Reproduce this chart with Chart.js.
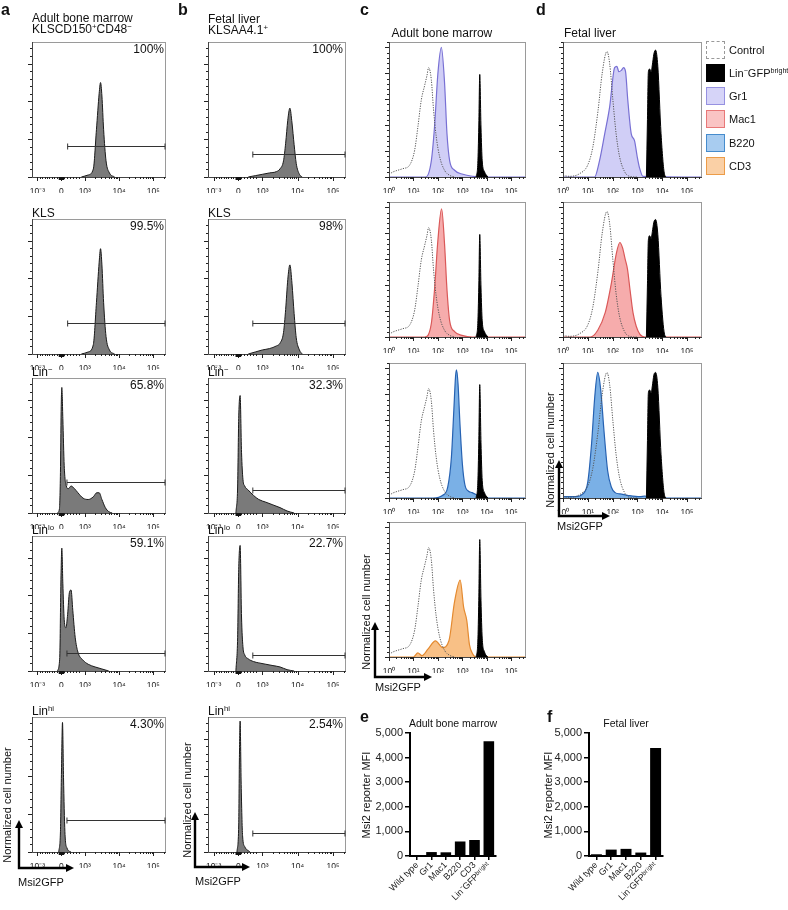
<!DOCTYPE html>
<html><head><meta charset="utf-8">
<script src="https://cdn.jsdelivr.net/npm/chart.js@4/dist/chart.umd.min.js"></script>
<style>
body{margin:0;background:#fff;}
#fig{position:relative;width:788px;height:910px;overflow:hidden;font-family:"Liberation Sans",Arial,Helvetica,sans-serif;color:#111;background:#fff;}
.t{position:absolute;white-space:nowrap;font-size:12px;line-height:1;}
.t sup{font-size:65%;line-height:0;position:relative;top:-0.5em;vertical-align:baseline;}
canvas{position:absolute;}
.lg{position:absolute;width:17px;height:16px;box-sizing:border-box;}
</style></head><body><div id="fig"></div>
<script>
// ================= DATA =================
// a/b x axis: biexponential display units (-10^3 -> 1.62, 0 -> 2.32, 10^3 -> 3, 10^4 -> 4, 10^5 -> 5)
const abTickValues = [1.62, 2.32, 3, 4, 5];
const abTickLabels = ['10⁻³', '0', '10³', '10⁴', '10⁵'];
// c/d x axis: log10 of Msi2GFP intensity
const cdTickValues = [0, 1, 2, 3, 4, 5];
const cdTickLabels = ['10⁰', '10¹', '10²', '10³', '10⁴', '10⁵'];

const aPercents = ['100%', '99.5%', '65.8%', '59.1%', '4.30%'];
const bPercents = ['100%', '98%', '32.3%', '22.7%', '2.54%'];
const rowTitles = ['KLS', 'Lin<sup>−</sup>', 'Lin<sup>lo</sup>', 'Lin<sup>hi</sup>'];

// y values: % of panel height
const a1X = [2.9, 3.1, 3.25, 3.34, 3.42, 3.46, 3.5, 3.55, 3.62, 3.72, 3.87];
const a1Y = [0, 1.5, 6, 35, 62, 70, 60, 35, 12, 3, 0];
const a2X = [2.9, 3.1, 3.25, 3.34, 3.42, 3.46, 3.5, 3.55, 3.62, 3.72, 3.87];
const a2Y = [0, 1.5, 7, 38, 68, 78, 66, 38, 13, 3, 0];
const a3X = [2.2, 2.26, 2.29, 2.31, 2.33, 2.36, 2.4, 2.46, 2.52, 2.6, 2.7, 2.8, 2.95, 3.1, 3.25, 3.35, 3.42, 3.5, 3.6, 3.7, 3.8];
const a3Y = [0, 3, 30, 75, 93, 70, 35, 20, 18, 20, 18, 15, 11, 10, 12, 15, 15, 10, 4, 1, 0];
const a4X = [2.2, 2.27, 2.3, 2.33, 2.36, 2.4, 2.45, 2.5, 2.55, 2.6, 2.65, 2.72, 2.8, 2.95, 3.1, 3.3, 3.5, 3.7];
const a4Y = [0, 10, 60, 91, 65, 38, 32, 42, 58, 60, 45, 25, 14, 8, 5, 3, 1.5, 0];
const a5X = [2.24, 2.29, 2.32, 2.35, 2.38, 2.42, 2.48, 2.6];
const a5Y = [0, 15, 60, 96, 55, 15, 3, 0];

const b1X = [2.6, 2.8, 3.0, 3.2, 3.4, 3.5, 3.6, 3.66, 3.72, 3.78, 3.84, 3.9, 3.96, 4.05, 4.13];
const b1Y = [0, 1, 2, 3, 4, 6, 12, 25, 42, 51, 40, 24, 10, 2, 0];
const b2X = [2.6, 2.8, 3.0, 3.2, 3.4, 3.5, 3.6, 3.66, 3.72, 3.78, 3.84, 3.9, 3.96, 4.05, 4.13];
const b2Y = [0, 1.5, 3, 4, 6, 8, 16, 33, 55, 66, 52, 30, 12, 3, 0];
const b3X = [2.25, 2.3, 2.33, 2.37, 2.41, 2.45, 2.5, 2.6, 2.75, 2.9, 3.1, 3.3, 3.5, 3.7, 3.9];
const b3Y = [0, 20, 70, 87, 45, 25, 20, 17, 13, 10, 8, 6, 4, 1.5, 0];
const b4X = [2.25, 2.3, 2.33, 2.37, 2.41, 2.45, 2.5, 2.6, 2.75, 2.9, 3.1, 3.3, 3.5, 3.7, 3.9];
const b4Y = [0, 25, 75, 93, 40, 18, 12, 9, 7, 6, 5, 4, 3, 1, 0];
const b5X = [2.28, 2.33, 2.35, 2.37, 2.4, 2.44, 2.5, 2.65];
const b5Y = [0, 20, 70, 97, 50, 12, 4, 0];

const aGateY = [23, 23, 23, 13, 24];
const aGateStart = [2.5, 2.5, 2.48, 2.48, 2.48];
const bGateY = [17, 23, 17, 12, 14];
const bGateStart = [2.73, 2.73, 2.73, 2.73, 2.73];

// column c (adult bone marrow)
const cCtrlX = [0, 0.16, 0.57, 0.84, 1.05, 1.18, 1.32, 1.46, 1.55, 1.62, 1.73, 1.82, 1.93, 2.07, 2.27, 2.48, 2.7];
const cCtrlY = [2, 3.7, 6.2, 8.7, 20, 37, 57, 68, 75, 81, 72, 50, 30, 15, 5, 1.2, 0];
const cBrightX = [3.56, 3.63, 3.67, 3.71, 3.76, 3.81, 3.9, 4.04];
const c1BrightY = [0, 10, 37, 76, 37, 12, 4, 0];
const c2BrightY = [0, 10, 37, 76, 37, 12, 4, 0];
const c3BrightY = [0, 11, 41, 84, 41, 13, 4, 0];
const c4BrightY = [0, 11, 42, 87, 42, 14, 4, 0];
const cGr1X = [0, 1.5, 1.73, 1.86, 2.0, 2.14, 2.27, 2.37, 2.48, 2.68, 3.02, 3.43, 3.8, 5.6];
const cGr1Y = [0, 0, 12, 37, 77, 96, 70, 32, 12, 5, 2, 0.5, 0, 0];
const cMac1X = [0, 1.46, 1.73, 1.86, 2.0, 2.15, 2.27, 2.37, 2.48, 2.68, 3.02, 3.4, 5.6];
const cMac1Y = [0, 0, 10, 35, 72, 95, 69, 35, 12, 4, 1, 0, 0];
const cB220X = [0, 1.8, 2.2, 2.4, 2.55, 2.65, 2.72, 2.76, 2.82, 2.9, 3.0, 3.1, 3.25, 3.4, 3.6, 3.8, 5.6];
const cB220Y = [0, 0, 2, 8, 30, 65, 90, 95, 85, 55, 25, 10, 5, 4, 2, 0, 0];
const cCD3X = [0, 1.0, 1.18, 1.35, 1.6, 1.9, 2.19, 2.45, 2.68, 2.91, 3.05, 3.18, 3.29, 3.43, 3.55, 5.6];
const cCD3Y = [0, 0, 3, 1, 6, 12, 7, 12, 41, 57, 37, 27, 9, 2, 0, 0];

// column d (fetal liver)
const dCtrlX = [0, 0.27, 0.67, 1.0, 1.2, 1.41, 1.58, 1.77, 1.88, 2.01, 2.14, 2.28, 2.48, 2.68, 3.0];
const dCtrlY = [1, 0.5, 2.5, 9, 22, 49, 77, 93, 84, 57, 32, 15, 4, 0.5, 0];
const dBrightX = [3.36, 3.4, 3.44, 3.49, 3.55, 3.6, 3.66, 3.73, 3.82, 3.95, 4.09, 4.16];
const d1BrightY = [0, 40, 78, 80, 78, 83, 91, 94, 82, 32, 2, 0];
const d2BrightY = [0, 37, 72, 75, 73, 78, 85, 87, 76, 30, 2, 0];
const d3BrightY = [0, 40, 78, 80, 78, 83, 91, 93, 82, 32, 2, 0];
const dGr1X = [0, 1.27, 1.47, 1.68, 1.88, 2.08, 2.17, 2.25, 2.35, 2.44, 2.52, 2.61, 2.75, 2.88, 2.99, 3.08, 3.22, 5.56];
const dGr1Y = [0, 0, 12, 32, 52, 81, 82, 78, 79, 81, 78, 57, 32, 27, 15, 7, 0.5, 0];
const dMac1X = [0, 1.1, 1.4, 1.7, 1.95, 2.15, 2.29, 2.4, 2.5, 2.6, 2.7, 2.82, 2.95, 3.1, 3.3, 5.56];
const dMac1Y = [0, 0, 5, 18, 40, 62, 70, 66, 58, 50, 35, 18, 8, 2, 0, 0];
const dB220X = [0, 0.5, 0.8, 1.0, 1.15, 1.28, 1.4, 1.52, 1.65, 1.8, 1.95, 2.1, 2.3, 2.6, 3.1, 3.3, 3.5, 5.56];
const dB220Y = [1, 1, 3, 12, 40, 75, 93, 80, 50, 20, 8, 4, 3, 2, 1, 1.5, 0, 0];

const legendLabels = ['Control', 'Lin<sup>−</sup>GFP<sup>bright</sup>', 'Gr1', 'Mac1', 'B220', 'CD3'];

// bar charts
const eCategories = ['Wild type', 'Gr1', 'Mac1', 'B220', 'CD3', 'Lin⁻GFPᵇʳⁱᵍʰᵗ'];
const eValues = [40, 160, 150, 590, 650, 4660];
const fCategories = ['Wild type', 'Gr1', 'Mac1', 'B220', 'Lin⁻GFPᵇʳⁱᵍʰᵗ'];
const fValues = [70, 260, 290, 140, 4390];
const mfiTicks = [0, 1000, 2000, 3000, 4000, 5000];

// ================= STYLE / LAYOUT =================
const FONT = '"Liberation Sans", Arial, Helvetica, sans-serif';
const COL = {
  gray: '#7a7a7a', grayLine: '#1a1a1a',
  gr1: 'rgb(208,206,246)', gr1L: 'rgb(120,112,212)',
  mac1: 'rgb(246,172,172)', mac1L: 'rgb(218,88,88)',
  b220: 'rgb(122,176,230)', b220L: 'rgb(38,98,178)',
  cd3: 'rgb(248,192,134)', cd3L: 'rgb(228,138,48)'
};
const fig = document.getElementById('fig');
const pts = (xs, ys) => xs.map((x, i) => ({ x, y: ys[i] }));

function addText(html, x, y, o = {}) {
  const d = document.createElement('div');
  d.className = 't'; d.innerHTML = html;
  d.style.left = x + 'px'; d.style.top = y + 'px';
  if (o.size) d.style.fontSize = o.size + 'px';
  if (o.bold) d.style.fontWeight = 'bold';
  if (o.align === 'right') d.style.transform = 'translateX(-100%)';
  if (o.align === 'center') d.style.transform = 'translateX(-50%)';
  if (o.rot) d.style.transform = 'translate(-50%,-50%) rotate(-90deg)';
  fig.appendChild(d); return d;
}
function makeCanvas(left, top, w, h) {
  const c = document.createElement('canvas');
  c.width = w; c.height = h;
  c.style.left = left + 'px'; c.style.top = top + 'px';
  c.style.width = w + 'px'; c.style.height = h + 'px';
  fig.appendChild(c); return c;
}

const decoPlugin = {
  id: 'deco',
  afterDatasetsDraw(chart, args, o) {
    const { ctx, chartArea: a, scales: { x, y } } = chart;
    ctx.save();
    ctx.lineWidth = 1;
    ctx.strokeStyle = '#9a9a9a';
    ctx.strokeRect(a.left + 0.5, a.top + 0.5, a.right - a.left - 1, a.bottom - a.top);
    ctx.strokeStyle = '#444';
    ctx.beginPath();
    ctx.moveTo(a.left + 0.5, a.top); ctx.lineTo(a.left + 0.5, a.bottom + 0.5); ctx.lineTo(a.right, a.bottom + 0.5);
    ctx.stroke();
    // x ticks
    ctx.strokeStyle = '#222';
    const tick = (v, len) => {
      const px = Math.round(x.getPixelForValue(v)) + 0.5;
      if (px < a.left || px > a.right) return;
      ctx.moveTo(px, a.bottom); ctx.lineTo(px, a.bottom + len);
    };
    ctx.beginPath();
    const major = o.kind === 'ab' ? abTickValues : cdTickValues;
    major.forEach(v => tick(v, 4));
    if (o.kind === 'ab') {
      [3, 4, 5].forEach(d => { for (let m = 2; m < 10; m++) tick(d + Math.log10(m), 2); });
      for (let k = 1; k < 10; k++) tick(1.62 + 0.7 * k / 10, 2);
      for (let k = 1; k < 7; k++) tick(2.32 + 0.68 * k / 8, 2);
    } else {
      [0, 1, 2, 3, 4, 5].forEach(d => { for (let m = 2; m < 10; m++) tick(d + Math.log10(m), 2); });
    }
    ctx.stroke();
    if (o.kind === 'ab') {
      ctx.fillStyle = '#111';
      const p0 = x.getPixelForValue(2.24), p1 = x.getPixelForValue(2.4);
      ctx.fillRect(p0, a.bottom, p1 - p0, 3);
    }
    // y ticks
    ctx.beginPath();
    const step = o.yStep;
    for (let v = 0, i = 0; v <= 100.01; v += step / 5, i++) {
      const py = Math.round(y.getPixelForValue(v)) + 0.5;
      const len = (i % 5 === 0) ? 4 : 2;
      ctx.moveTo(a.left, py); ctx.lineTo(a.left - len, py);
    }
    ctx.stroke();
    // gate
    if (o.gate) {
      const gy = Math.round(y.getPixelForValue(o.gate.y)) + 0.5;
      const gx0 = x.getPixelForValue(o.gate.x0), gx1 = Math.min(x.getPixelForValue(o.gate.x1), a.right - 1);
      ctx.strokeStyle = '#333';
      ctx.beginPath();
      ctx.moveTo(gx0, gy); ctx.lineTo(gx1, gy);
      ctx.moveTo(gx0, gy - 3); ctx.lineTo(gx0, gy + 3);
      ctx.moveTo(gx1, gy - 3); ctx.lineTo(gx1, gy + 3);
      ctx.stroke();
    }
    ctx.restore();
  }
};

function histChart(box, kind, datasets, gate) {
  const padL = 14, padR = 14, padT = 4, padB = 16;
  const cv = makeCanvas(box.x - padL, box.y - padT, box.w + padL + padR, box.h + padT + padB);
  const isAB = kind === 'ab';
  const tv = isAB ? abTickValues : cdTickValues;
  const tl = isAB ? abTickLabels : cdTickLabels;
  new Chart(cv, {
    type: 'scatter',
    data: { datasets },
    options: {
      animation: false, responsive: false, devicePixelRatio: 1,
      layout: { padding: { left: padL, right: padR, top: padT, bottom: 0 } },
      plugins: { legend: { display: false }, tooltip: { enabled: false },
        deco: { kind, gate, yStep: isAB ? 28 : 19.2 } },
      scales: {
        x: {
          type: 'linear', min: isAB ? 1.46 : 0, max: isAB ? 5.37 : 5.6,
          afterBuildTicks: s => { s.ticks = tv.map(v => ({ value: v })); },
          afterFit: s => { s.height = padB; },
          ticks: { callback: v => tl[tv.indexOf(v)], font: { size: 8.5, family: FONT }, color: '#222',
                   padding: 2, maxRotation: 0, autoSkip: false },
          grid: { display: false }, border: { display: false }
        },
        y: { min: 0, max: 100, display: false }
      },
      elements: { point: { radius: 0 }, line: { cubicInterpolationMode: 'monotone' } }
    },
    plugins: [decoPlugin]
  });
}
const grayDs = (xs, ys) => ({ data: pts(xs, ys), showLine: true, fill: 'origin',
  backgroundColor: COL.gray, borderColor: COL.grayLine, borderWidth: 1 });
const ctrlDs = (xs, ys) => ({ data: pts(xs, ys), showLine: true, fill: false,
  borderColor: '#555', borderWidth: 1, borderDash: [1.2, 1.3] });
const brightDs = (xs, ys) => ({ data: pts(xs, ys), showLine: true, fill: 'origin',
  backgroundColor: '#000', borderColor: '#000', borderWidth: 1 });
const colDs = (xs, ys, f, l) => ({ data: pts(xs, ys), showLine: true, fill: 'origin',
  backgroundColor: f, borderColor: l, borderWidth: 1.2 });

// ---- columns a, b ----
const rowTopsAB = [42, 219, 378, 536, 717];
const aBoxX = 32, aBoxW = 134, bBoxX = 208, bBoxW = 138, rowH = 135;
const aSeries = [[a1X, a1Y], [a2X, a2Y], [a3X, a3Y], [a4X, a4Y], [a5X, a5Y]];
const bSeries = [[b1X, b1Y], [b2X, b2Y], [b3X, b3Y], [b4X, b4Y], [b5X, b5Y]];
rowTopsAB.forEach((top, i) => {
  histChart({ x: aBoxX, y: top, w: aBoxW, h: rowH }, 'ab', [grayDs(...aSeries[i])],
    { y: aGateY[i], x0: aGateStart[i], x1: 5.37 });
  histChart({ x: bBoxX, y: top, w: bBoxW, h: rowH }, 'ab', [grayDs(...bSeries[i])],
    { y: bGateY[i], x0: bGateStart[i], x1: 5.37 });
  addText(aPercents[i], aBoxX + aBoxW - 2, top + 1, { align: 'right' });
  addText(bPercents[i], bBoxX + bBoxW - 3, top + 1, { align: 'right' });
  if (i > 0) {
    addText(rowTitles[i - 1], aBoxX, top - 12.5);
    addText(rowTitles[i - 1], bBoxX, top - 12.5);
  }
});
addText('Adult bone marrow', 32, 11.5);
addText('KLSCD150<sup>+</sup>CD48<sup>−</sup>', 32, 23);
addText('Fetal liver', 208, 13);
addText('KLSAA4.1<sup>+</sup>', 208, 24);

// ---- column c ----
const cTops = [42, 202, 363, 522];
const cBoxX = 389, cBoxW = 137;
const cColored = [[cGr1X, cGr1Y, COL.gr1, COL.gr1L], [cMac1X, cMac1Y, COL.mac1, COL.mac1L],
                  [cB220X, cB220Y, COL.b220, COL.b220L], [cCD3X, cCD3Y, COL.cd3, COL.cd3L]];
const cBright = [c1BrightY, c2BrightY, c3BrightY, c4BrightY];
cTops.forEach((top, i) => {
  histChart({ x: cBoxX, y: top, w: cBoxW, h: rowH }, 'cd',
    [ctrlDs(cCtrlX, cCtrlY), brightDs(cBrightX, cBright[i]), colDs(...cColored[i])], null);
});
addText('Adult bone marrow', 391.5, 27);

// ---- column d ----
const dTops = [42, 202, 363];
const dBoxX = 563, dBoxW = 139;
const dColored = [[dGr1X, dGr1Y, COL.gr1, COL.gr1L], [dMac1X, dMac1Y, COL.mac1, COL.mac1L],
                  [dB220X, dB220Y, COL.b220, COL.b220L]];
const dBright = [d1BrightY, d2BrightY, d3BrightY];
dTops.forEach((top, i) => {
  histChart({ x: dBoxX, y: top, w: dBoxW, h: rowH }, 'cd',
    [ctrlDs(dCtrlX, dCtrlY), brightDs(dBrightX, dBright[i]), colDs(...dColored[i])], null);
});
addText('Fetal liver', 564, 27);

// legend
const legendStyles = [
  'border:1.3px dashed #999;background:#fff;',
  'background:#000;border:1px solid #000;',
  'background:rgb(214,212,248);border:1.3px solid rgb(150,145,225);',
  'background:rgb(250,196,196);border:1.3px solid rgb(232,120,120);',
  'background:rgb(168,204,240);border:1.3px solid rgb(70,140,205);',
  'background:rgb(250,208,166);border:1.3px solid rgb(236,156,72);'
];
const legendTops = [41, 64, 87, 110, 134, 157];
legendLabels.forEach((lab, i) => {
  const b = document.createElement('div');
  b.className = 'lg'; b.style.cssText += legendStyles[i];
  b.style.left = '706px'; b.style.top = (legendTops[i]) + 'px';
  b.style.width = '19px'; b.style.height = '18px';
  fig.appendChild(b);
  addText(lab, 729, legendTops[i] + 4, { size: 11 });
});

// ---- bar charts ----
function barChart(left, top, w, h, areaL, areaT, areaB, areaR, cats, vals) {
  const cv = makeCanvas(left, top, w, h);
  new Chart(cv, {
    type: 'bar',
    data: { labels: cats, datasets: [{ data: vals, backgroundColor: '#000', barPercentage: 0.74, categoryPercentage: 1 }] },
    options: {
      animation: false, responsive: false, devicePixelRatio: 1,
      layout: { padding: { left: 0, right: left + w - areaR, top: areaT - top, bottom: 0 } },
      plugins: { legend: { display: false }, tooltip: { enabled: false } },
      scales: {
        x: {
          grid: { offset: false, drawOnChartArea: false, tickLength: 4, color: '#000', lineWidth: 1.5 },
          border: { color: '#000', width: 2 },
          ticks: { minRotation: 45, maxRotation: 45, autoSkip: false, font: { size: 9, family: FONT }, color: '#222', padding: 0 },
          afterFit: s => { s.height = top + h - areaB; }
        },
        y: {
          min: 0, max: 5000,
          afterBuildTicks: s => { s.ticks = mfiTicks.map(v => ({ value: v })); },
          ticks: { font: { size: 11, family: FONT }, color: '#222', padding: 2,
                   callback: v => v.toLocaleString('en-US') },
          grid: { drawOnChartArea: false, tickLength: 5, color: '#000', lineWidth: 1.5 },
          border: { color: '#000', width: 2 },
          afterFit: s => { s.width = areaL - left; }
        }
      }
    }
  });
}
barChart(360, 700, 140, 210, 410, 733, 856, 496, eCategories, eValues);
barChart(540, 700, 127, 210, 589, 733, 856, 663, fCategories, fValues);
addText('Adult bone marrow', 453, 718, { size: 10.5, align: 'center' });
addText('Fetal liver', 626, 718, { size: 10.5, align: 'center' });
addText('Msi2 reporter MFI', 366, 795, { size: 11, rot: true });
addText('Msi2 reporter MFI', 548, 795, { size: 11, rot: true });

// ---- panel letters ----
addText('a', 1, 2, { size: 16, bold: true });
addText('b', 178, 2, { size: 16, bold: true });
addText('c', 360, 2, { size: 16, bold: true });
addText('d', 536, 2, { size: 16, bold: true });
addText('e', 360, 709, { size: 16, bold: true });
addText('f', 547, 709, { size: 16, bold: true });

// ---- axis arrows & titles ----
const svgNS = 'http://www.w3.org/2000/svg';
const svg = document.createElementNS(svgNS, 'svg');
svg.setAttribute('width', 788); svg.setAttribute('height', 910);
svg.style.position = 'absolute'; svg.style.left = '0'; svg.style.top = '0';
fig.appendChild(svg);
function arrows(x, y, upTo, rightTo) {
  const mk = (tag, attrs) => { const e = document.createElementNS(svgNS, tag);
    for (const k in attrs) e.setAttribute(k, attrs[k]); svg.appendChild(e); };
  mk('path', { d: `M${x},${upTo + 7} L${x},${y} L${rightTo - 7},${y}`, stroke: '#000', 'stroke-width': 2.4, fill: 'none' });
  mk('polygon', { points: `${x - 4},${upTo + 8} ${x + 4},${upTo + 8} ${x},${upTo}`, fill: '#000' });
  mk('polygon', { points: `${rightTo - 8},${y - 4} ${rightTo - 8},${y + 4} ${rightTo},${y}`, fill: '#000' });
}
arrows(19, 868, 820, 74);
arrows(195, 867, 812, 250);
arrows(375, 677, 622, 432);
arrows(559, 516, 460, 610);
addText('Normalized cell number', 7, 805, { size: 11, rot: true });
addText('Normalized cell number', 187, 800, { size: 11, rot: true });
addText('Normalized cell number', 366, 612, { size: 11, rot: true });
addText('Normalized cell number', 550, 450, { size: 11, rot: true });
addText('Msi2GFP', 18, 877, { size: 11 });
addText('Msi2GFP', 195, 876, { size: 11 });
addText('Msi2GFP', 375, 682, { size: 11 });
addText('Msi2GFP', 557, 521, { size: 11 });
</script></body></html>
